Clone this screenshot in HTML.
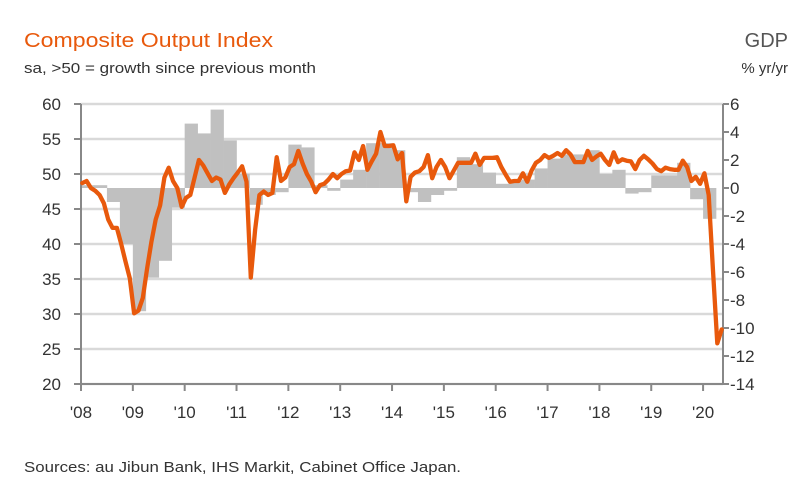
<!DOCTYPE html>
<html><head><meta charset="utf-8"><style>
html,body{margin:0;padding:0;background:#fff;}
svg{display:block;font-family:"Liberation Sans",sans-serif;}
</style></head><body>
<svg id="chart" width="802" height="488" viewBox="0 0 802 488" xmlns="http://www.w3.org/2000/svg">
<text x="24" y="47" font-size="20" fill="#e8590c" textLength="249" lengthAdjust="spacingAndGlyphs">Composite Output Index</text>
<text x="24" y="73" font-size="15" fill="#333" textLength="292" lengthAdjust="spacingAndGlyphs">sa, &gt;50 = growth since previous month</text>
<text x="788" y="47" font-size="20" fill="#555" text-anchor="end">GDP</text>
<text x="788" y="73" font-size="15" fill="#333" text-anchor="end">% yr/yr</text>
<text x="24" y="472" font-size="15" fill="#333" textLength="437" lengthAdjust="spacingAndGlyphs">Sources: au Jibun Bank, IHS Markit, Cabinet Office Japan.</text>
<g id="grid"></g><g id="bars"></g><g id="axes"></g><g id="line"></g>
</svg>
<script>
const leftTicks=[60,55,50,45,40,35,30,25,20];
const rightTicks=[6,4,2,0,-2,-4,-6,-8,-10,-12,-14];
const yearLabels=["'08","'09","'10","'11","'12","'13","'14","'15","'16","'17","'18","'19","'20"];
const gdp=[0.2,0.2,-1.0,-4.0,-8.8,-6.4,-5.2,-1.4,4.6,3.9,5.6,3.4,1.0,-1.2,-0.5,-0.3,3.1,2.9,0.2,-0.2,0.6,1.3,3.2,3.2,2.7,-0.3,-1.0,-0.5,-0.2,2.2,1.7,1.1,0.3,0.5,0.6,1.4,2.1,2.4,2.4,2.7,1.0,1.3,-0.4,-0.3,0.9,0.9,1.8,-0.8,-2.2];
const pmi=[48.7,49.0,48.0,47.6,47.0,45.8,43.5,42.3,42.3,40.0,37.5,35.1,30.1,30.5,32.3,36.5,40.3,43.5,45.5,49.5,50.9,49.0,48.0,45.3,46.6,47.0,49.5,52.0,51.2,50.1,49.0,49.5,49.2,47.3,48.5,49.4,50.2,51.1,48.9,35.2,42.0,47.0,47.5,47.0,47.3,52.4,49.0,49.5,51.0,51.4,53.3,51.5,50.0,48.9,47.4,48.4,48.6,49.2,50.0,49.4,50.0,50.4,50.5,53.1,52.0,54.0,50.6,51.8,52.9,56.0,54.0,54.0,54.1,52.1,53.0,46.1,49.6,50.2,50.4,51.0,52.7,49.4,51.0,52.0,51.0,49.4,50.5,51.6,51.6,51.6,51.6,52.9,51.3,52.3,52.3,52.3,52.4,51.0,49.9,48.9,49.0,49.0,50.1,48.9,50.5,51.6,52.0,52.7,52.3,52.6,53.0,52.6,53.4,52.8,51.7,51.7,51.7,53.3,52.0,52.5,52.9,52.0,51.3,53.1,51.7,52.1,51.9,51.8,50.7,52.0,52.6,52.1,51.5,50.7,50.4,50.9,50.7,50.6,50.6,51.9,51.0,49.0,49.6,48.6,50.1,47.0,36.2,25.8,27.8];

const NS="http://www.w3.org/2000/svg";
const X0=81,X1=723,MONTH=4.32;
const yL=v=>104+(60-v)*7;
const yR=v=>104+(6-v)*14;
const xM=m=>X0+m*MONTH;
function mk(tag,attrs,parent){const e=document.createElementNS(NS,tag);for(const k in attrs)e.setAttribute(k,attrs[k]);document.getElementById(parent).appendChild(e);return e;}

leftTicks.forEach(v=>{
  const g=mk('line',{x1:X0,x2:X1,y1:yL(v),y2:yL(v),stroke:'#d9d9d9','stroke-width':2.5},'grid');
  
  
  const t=mk('text',{x:61,y:yL(v)+6,'font-size':17,fill:'#333','text-anchor':'end'},'axes');
  t.textContent=v;
  
  
  mk('line',{x1:X0-7,x2:X0,y1:yL(v),y2:yL(v),stroke:'#888','stroke-width':2},'axes');
});
rightTicks.forEach(v=>{
  const t=mk('text',{x:730,y:yR(v)+6,'font-size':17,fill:'#333'},'axes');
  t.textContent=v;
  
  
  mk('line',{x1:X1,x2:X1+6,y1:yR(v),y2:yR(v),stroke:'#888','stroke-width':2},'axes');
});
const la=mk('line',{x1:X0,x2:X0,y1:104,y2:385,stroke:'#888','stroke-width':2},'axes');


const ra=mk('line',{x1:X1,x2:X1,y1:104,y2:385,stroke:'#888','stroke-width':2},'axes');


const xa=mk('line',{x1:X0,x2:X1,y1:384,y2:384,stroke:'#888','stroke-width':2},'axes');


yearLabels.forEach((lab,i)=>{
  const x=xM(i*12);
  mk('line',{x1:x,x2:x,y1:384,y2:391,stroke:'#888','stroke-width':2},'axes');
  const t=mk('text',{x:x,y:418,'font-size':17,fill:'#333','text-anchor':'middle'},'axes');
  t.textContent=lab;
  
  
});
gdp.forEach((v,q)=>{
  const x=xM(q*3),w=3*MONTH+0.3;
  const y0=yR(0),y1=yR(v);
  const r=mk('rect',{x:x,y:Math.min(y0,y1),width:w,height:Math.abs(y1-y0),fill:'#c0c0c0'},'bars');
  
  
});
const d=pmi.map((v,m)=>(m?'L':'M')+xM(m+0.3).toFixed(1)+','+yL(v).toFixed(1)).join('');
const p=mk('path',{d:d,fill:'none',stroke:'#e8590c','stroke-width':4.3,'stroke-linejoin':'round','stroke-linecap':'round'},'line');


</script>
</body></html>
